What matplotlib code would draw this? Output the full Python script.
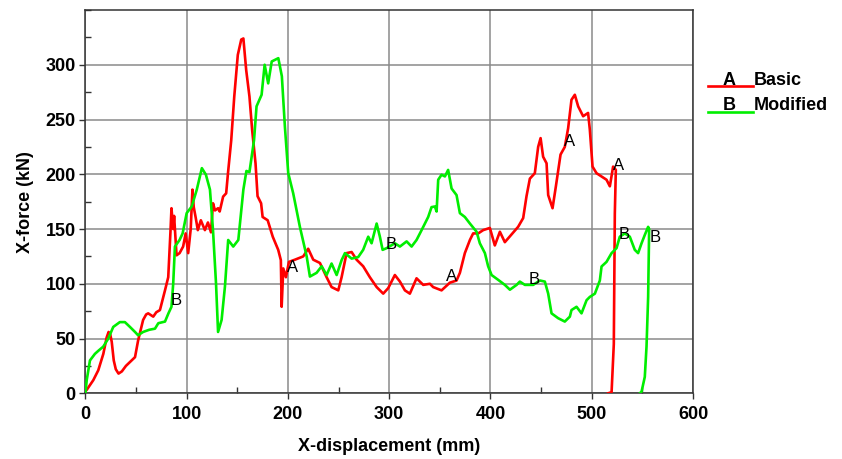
import matplotlib
matplotlib.use('Agg')
import matplotlib.pyplot as plt
from matplotlib.lines import Line2D
from matplotlib.ticker import MultipleLocator

# ============================================================
#  DATA, (displacement mm, force kN)
# ============================================================
basic_pts = [
    (0, 2), (1.2, 3), (7.8, 12), (12.7, 21), (17.7, 36), (21, 51), (22.9, 56), (24.5, 54),
    (26, 47), (28, 30), (30, 22), (32.7, 18), (36, 20), (40, 25), (44, 28.6), (49, 33),
    (52, 48), (57, 67), (60, 72), (62, 73), (67, 70), (70, 74), (73.6, 76), (78.6, 94),
    (81.8, 106), (84, 147.6), (85, 169), (86.7, 150), (87.6, 162), (90, 126), (93, 128),
    (96.5, 134), (99, 146), (101.5, 128), (104, 150), (105.7, 186), (107, 170), (109, 160),
    (111, 149), (114, 158), (118, 149), (121, 156), (124, 147), (126, 173.5), (128, 167),
    (131, 169), (132.6, 166), (136, 179.6), (139, 182.6), (140.8, 201), (144, 231),
    (147, 271), (150.5, 309), (153.9, 323), (156, 324), (158.8, 295), (162, 271),
    (164.7, 240), (168, 210), (170, 180), (173.5, 173.5), (175, 161), (180, 158),
    (185, 143), (190.4, 131), (193, 121.6), (193.8, 79), (195.4, 114), (198, 106),
    (201, 120), (206.9, 122), (215.1, 125), (220, 132), (225, 122), (231.6, 119),
    (238.2, 106), (243.1, 97), (249.7, 94), (253, 106), (257.9, 128), (262.9, 129),
    (267.8, 122), (274.3, 116), (280.9, 106), (287.6, 97), (294.1, 91), (299, 96),
    (305.6, 108), (310.6, 102), (315.5, 94), (320.4, 91), (327, 105), (333.6, 99),
    (340.2, 100), (343.4, 97), (351.7, 94), (359.9, 101), (366.5, 103), (369.8, 110),
    (374.7, 128), (379.7, 140), (382.9, 146), (387.9, 146), (392.8, 149), (399.4, 151),
    (404.3, 135), (409.3, 147.5), (414.2, 138), (420.8, 145), (427.3, 152), (432.3, 160),
    (435.6, 180), (438.9, 196), (443.8, 201), (447.1, 225), (449.5, 233), (452, 216),
    (455.4, 210), (457, 181), (461.3, 169), (464.6, 189), (469.2, 218), (473.4, 225),
    (476.7, 242), (480, 268), (483.3, 272.6), (486.6, 262), (491.5, 253), (496.4, 256),
    (498.1, 241), (500.8, 207), (504.7, 201), (509.7, 198), (514.6, 195), (517.9, 189),
    (521.1, 207), (523.8, 204), (522.8, 164), (521.8, 45), (519.6, 1), (516.2, 0),
]
modified_pts = [
    (0, 0), (1.3, 12), (4.5, 30), (9.4, 36), (13, 39), (17.6, 42.6), (22.6, 50),
    (27.5, 60.6), (34, 65), (39, 65), (44, 60.6), (49, 56), (52, 53), (57, 56), (63, 58),
    (68.7, 59), (72, 64), (78.6, 65.5), (82, 73), (85, 79), (86.7, 100), (88.4, 134),
    (93, 140), (96, 146), (100, 164.5), (105, 170.6), (110, 186), (115, 205.6),
    (119, 199.6), (123, 186), (126, 149), (129, 100), (131, 56), (134.5, 67), (137.8, 97.5),
    (141, 140), (146, 134), (151, 140), (156, 186), (159, 203), (162, 202), (166.5, 231),
    (169, 262), (174, 272.6), (177, 300), (180.5, 283), (184, 303), (190.5, 306),
    (194, 289.5), (197, 243.5), (200.3, 201), (205.2, 182.6), (211.8, 152), (218.5, 125),
    (221.7, 106.6), (228.3, 110), (233.3, 116), (238.2, 108), (243.1, 118.5), (248.1, 108),
    (253, 121.6), (256.3, 128), (262.9, 123), (269.4, 124.4), (274.3, 131), (279.3, 143),
    (282.6, 137), (287.6, 155), (290.8, 143), (293.5, 131), (297.4, 132.5), (305.6, 137),
    (310.6, 134), (317.2, 138.7), (322.1, 134), (327, 140), (332, 149), (338.5, 161),
    (341.8, 170), (345.1, 170.6), (346.8, 166), (348.4, 195), (351.7, 199.6), (355, 198),
    (358.2, 204), (361.6, 187), (366.5, 181), (369.8, 164.5), (374.7, 161), (379.7, 155),
    (386.3, 147.5), (389.5, 137), (394.5, 128), (397.7, 116), (401.1, 108), (407.6, 103.6),
    (414.2, 99), (419.2, 94.6), (425.8, 99), (429, 102), (434, 99), (442.2, 99),
    (448.8, 103), (453.7, 102), (457, 91), (460.3, 73), (466.8, 68.6), (473.4, 65.5),
    (478.4, 70), (480, 76), (485, 79), (489.9, 73), (494.9, 85), (498.1, 88), (503.1, 91),
    (508, 103), (509.7, 115.8), (514.6, 120), (519.6, 128), (524.5, 132.6), (527.7, 143),
    (532.7, 146), (537.6, 143), (542.5, 131), (545.8, 128), (549.2, 137), (552.4, 144.6),
    (555.7, 152), (556.7, 150), (556.2, 120), (555.7, 88), (554.1, 42.6), (552.4, 15),
    (549.2, 1.5), (547.5, 0),
]
basic_x, basic_y = zip(*basic_pts)
modified_x, modified_y = zip(*modified_pts)

# letter markers along the curves
basic_marks_x = [205, 361.6, 477.7, 526]
basic_marks_y = [115, 106.6, 230, 208]
modified_marks_x = [90, 302.3, 443, 532, 562.3]
modified_marks_y = [85, 135.6, 103.6, 145, 142.6]

RED = '#ff0000'
GREEN = '#00ee00'
FONT = 'Liberation Sans'

# ============================================================
#  PLOT
# ============================================================
fig = plt.figure(figsize=(8.42, 4.59), dpi=100)
W, H = 842.0, 459.0
ax = fig.add_axes([85.4 / W, 1 - 393.3 / H, (693 - 85.4) / W, (393.3 - 10) / H])

ax.plot(basic_x, basic_y, color=RED, lw=1.9, zorder=3)
ax.plot(modified_x, modified_y, color=GREEN, lw=1.9, zorder=3)

for x, y in zip(basic_marks_x, basic_marks_y):
    ax.text(x, y, 'A', fontsize=12, family=FONT, ha='center', va='center', zorder=4)
for x, y in zip(modified_marks_x, modified_marks_y):
    ax.text(x, y, 'B', fontsize=12, family=FONT, ha='center', va='center', zorder=4)

ax.set_xlim(0, 600)
ax.set_ylim(0, 350)
ax.set_xticks(range(0, 601, 100))
ax.set_yticks(range(0, 301, 50))
ax.xaxis.set_minor_locator(MultipleLocator(50))
ax.yaxis.set_minor_locator(MultipleLocator(25))
ax.grid(True, which='major', color='#8a8a8a', lw=1.1, zorder=1)

ax.tick_params(which='major', direction='out', length=4, width=1, color='#333333',
               labelsize=13, pad=3)
ax.tick_params(axis='x', which='major', pad=5)
ax.tick_params(which='minor', direction='in', length=4, width=1, color='#333333')
for lbl in ax.get_xticklabels() + ax.get_yticklabels():
    lbl.set_family(FONT)
    lbl.set_fontweight('bold')

for sp in ax.spines.values():
    sp.set_color('#333333')
    sp.set_linewidth(1.1)

ax.set_xlabel('X-displacement (mm)', fontsize=13, fontweight='bold', family=FONT, labelpad=11)
ax.set_ylabel('X-force (kN)', fontsize=13, fontweight='bold', family=FONT, labelpad=8)

# legend on the right, Origin style: letter sitting on the line
for i, (letter, name, col) in enumerate([('A', 'Basic', RED), ('B', 'Modified', GREEN)]):
    yl = 1 - (86 + i * 25.5) / H
    fig.add_artist(Line2D([708 / W, 753 / W], [yl, yl], color=col, lw=1.9,
                          transform=fig.transFigure))
    fig.text(729 / W, yl + 1 / H, letter, fontsize=13, fontweight='bold', family=FONT,
             ha='center', va='baseline')
    fig.text(754 / W, yl + 1 / H, name, fontsize=13, fontweight='bold', family=FONT,
             ha='left', va='baseline')

fig.savefig('out.png', dpi=100)
